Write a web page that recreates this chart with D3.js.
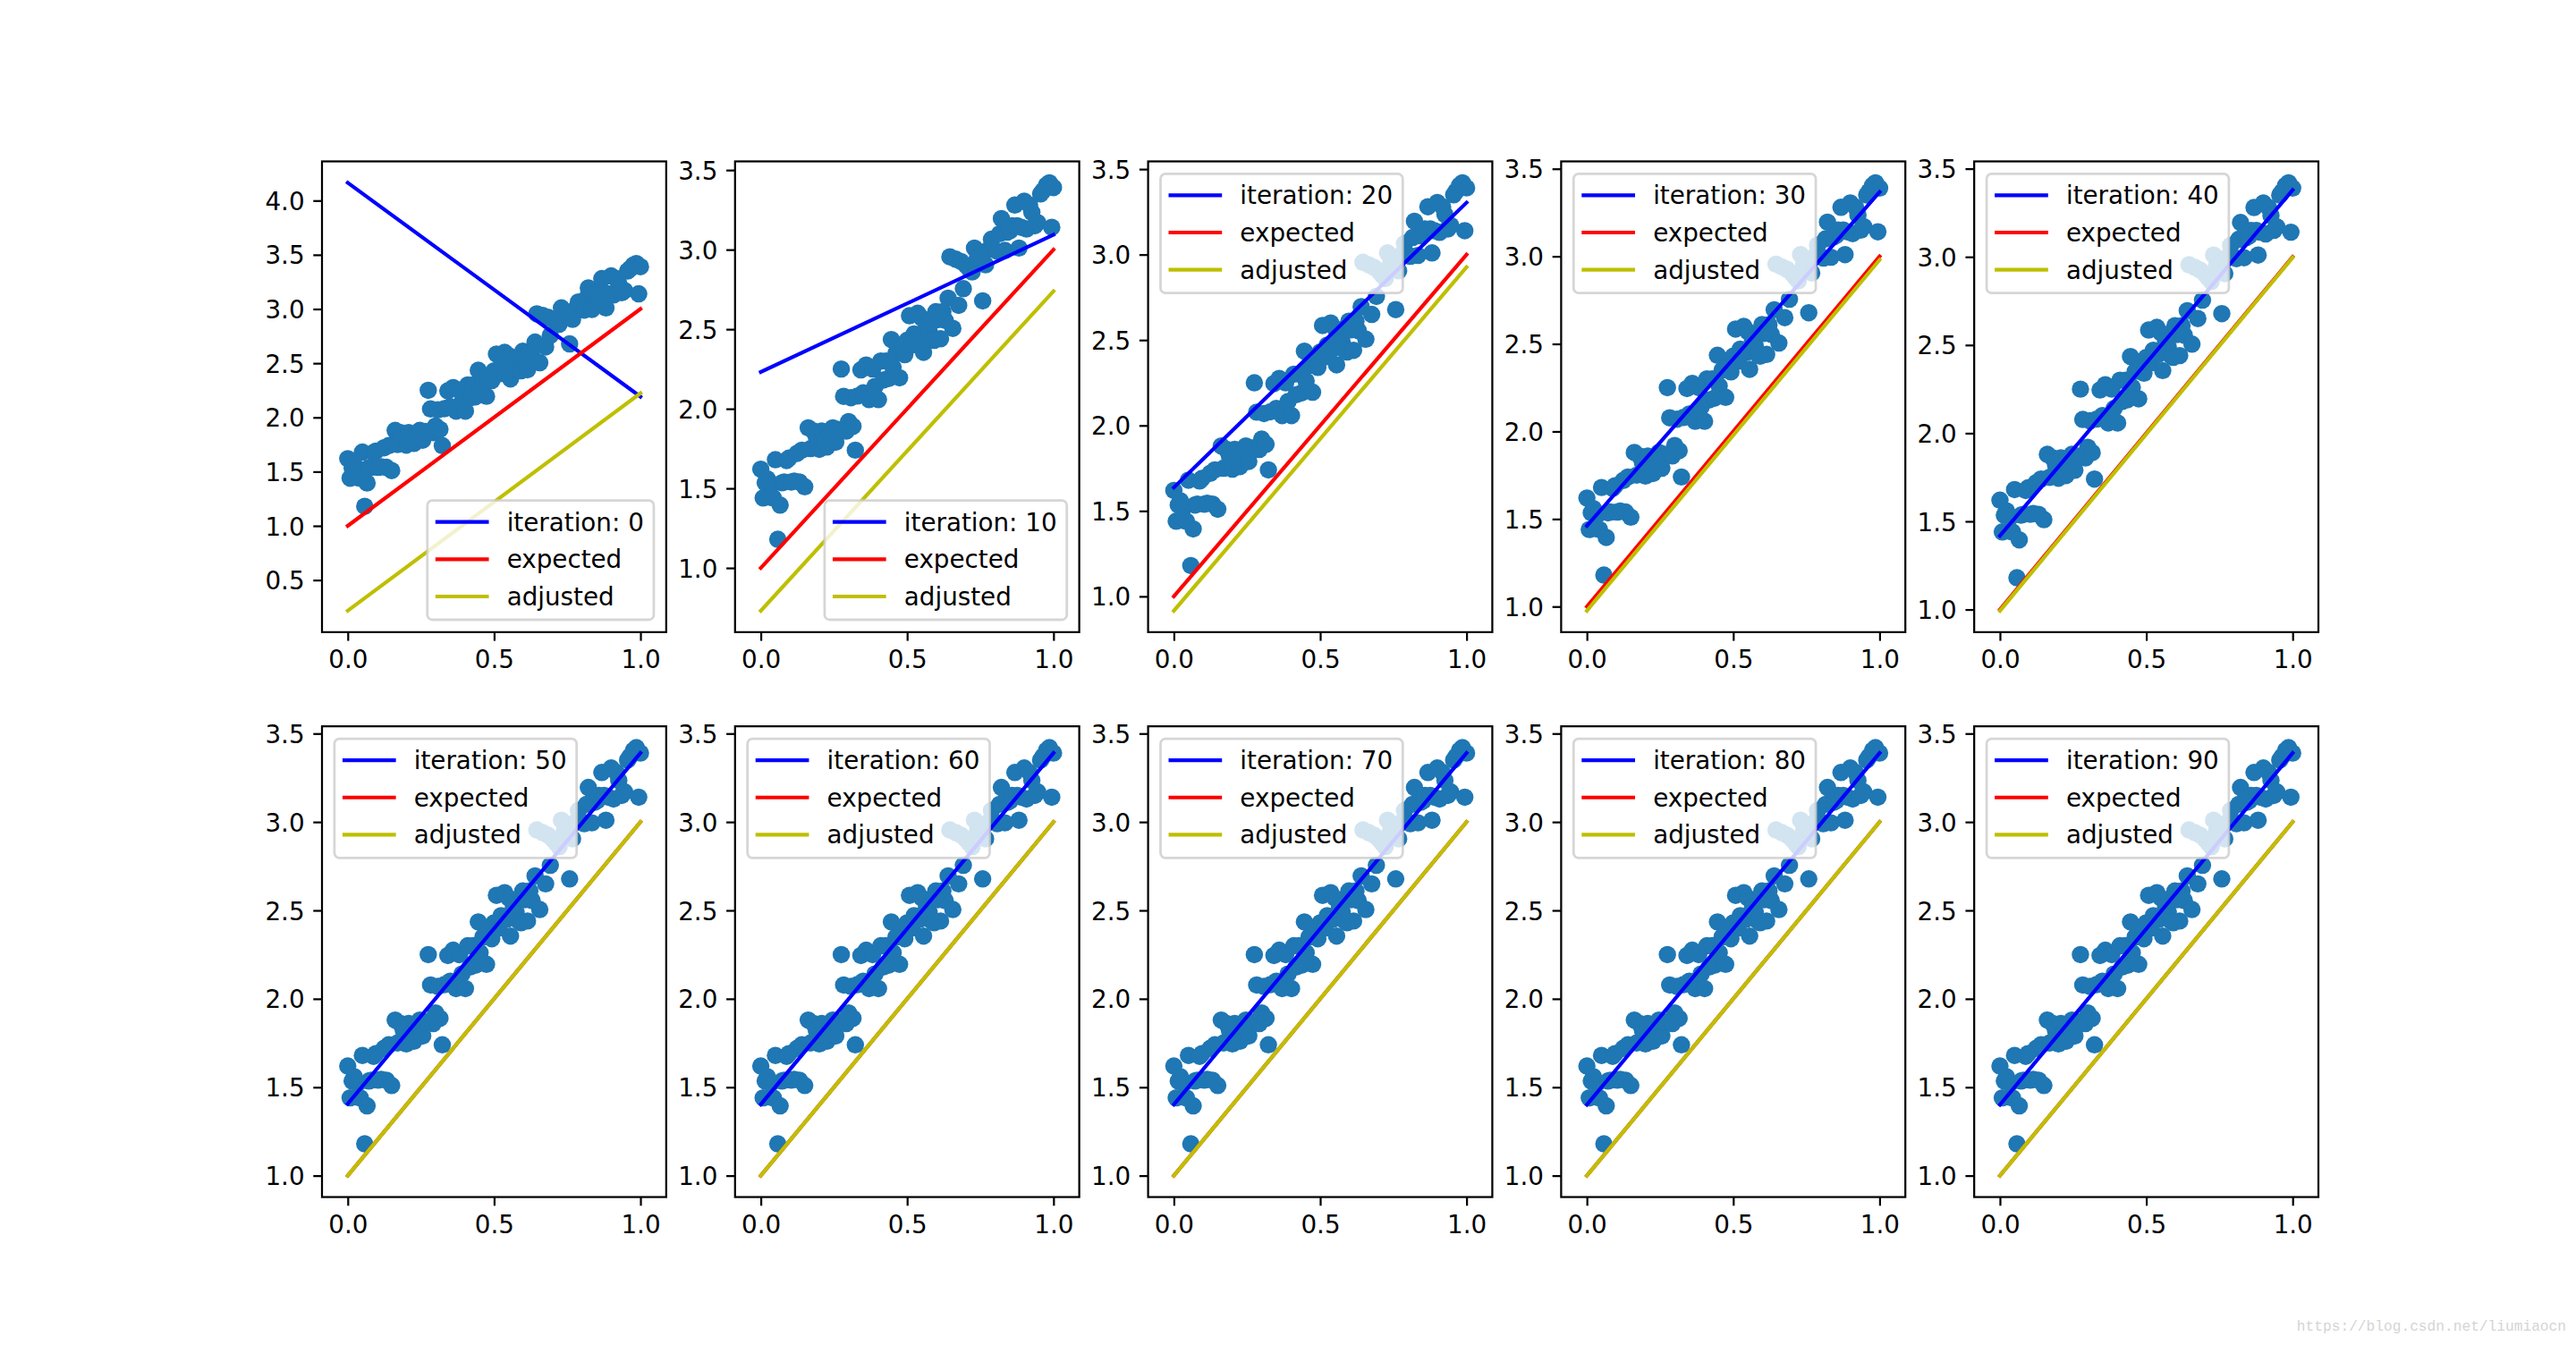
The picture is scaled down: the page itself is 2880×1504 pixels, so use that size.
<!DOCTYPE html>
<html><head><meta charset="utf-8">
<script src="https://cdn.jsdelivr.net/npm/d3@7"></script>
<style>body{margin:0;background:#fff} svg{display:block}</style>
</head><body><svg id="c" width="2880" height="1504"></svg>
<script>
// ---- data ----
const iterations = [0, 10, 20, 30, 40, 50, 60, 70, 80, 90];
const fitStart = [4.164, 2.231, 1.637, 1.461, 1.418, 1.406, 1.403, 1.402, 1.401, 1.401];
const fitEnd   = [2.192, 3.093, 3.304, 3.367, 3.379, 3.390, 3.390, 3.390, 3.390, 3.390];
const adjStart = [0.217, 0.731, 0.916, 0.976, 0.993, 1.000, 1.000, 1.000, 1.000, 1.000];
const adjEnd   = [2.223, 2.739, 2.927, 2.980, 2.996, 3.000, 3.000, 3.000, 3.000, 3.000];
const expectedY = [1.0, 3.0];
const lineX = [0.0, 1.0];
const legendLoc = ["lower right", "lower right", "upper left", "upper left", "upper left",
                   "upper left", "upper left", "upper left", "upper left", "upper left"];
const xTicks = [0.0, 0.5, 1.0];
const yTicksFirst = [0.5, 1.0, 1.5, 2.0, 2.5, 3.0, 3.5, 4.0];
const yTicksOther = [1.0, 1.5, 2.0, 2.5, 3.0, 3.5];
const legendLabels = ["iteration: ", "expected", "adjusted"];
const seriesColors = ["#0000ff", "#ff0000", "#bfbf00"];
const scatterX = [0.000,0.008,0.015,0.022,0.030,0.036,0.043,0.050,0.058,0.066,0.072,0.080,0.088,0.096,0.104,0.114,0.124,0.132,0.140,0.150,
  0.162,0.170,0.180,0.190,0.200,0.208,0.218,0.226,0.236,0.246,0.256,0.264,0.275,0.283,0.292,0.300,0.308,0.315,0.323,0.330,
  0.342,0.350,0.360,0.370,0.382,0.390,0.402,0.410,0.418,0.428,0.436,0.446,0.452,0.462,0.474,0.480,0.492,0.500,0.508,0.516,
  0.524,0.536,0.544,0.550,0.556,0.566,0.575,0.584,0.592,0.598,0.606,0.614,0.622,0.630,0.640,0.646,0.656,0.666,0.676,0.684,
  0.692,0.702,0.712,0.722,0.730,0.740,0.750,0.758,0.768,0.778,0.788,0.798,0.808,0.816,0.822,0.834,0.842,0.852,0.858,0.868,
  0.876,0.882,0.890,0.900,0.908,0.918,0.926,0.936,0.946,0.956,0.964,0.976,0.986,0.994,1.000];
const scatterY = [1.620,1.440,1.535,1.560,1.445,1.525,1.440,1.680,1.180,1.395,1.535,1.540,1.675,1.690,1.540,1.545,1.720,1.540,1.740,1.510,
  1.880,1.750,1.860,1.820,1.745,1.860,1.800,1.760,1.845,1.880,1.790,1.870,2.250,2.078,1.860,1.920,2.070,1.890,1.740,2.080,
  2.245,2.100,2.275,2.058,2.250,2.140,2.058,2.300,2.180,2.300,2.190,2.435,2.260,2.350,2.195,2.380,2.340,2.430,2.585,2.400,
  2.470,2.600,2.450,2.570,2.355,2.520,2.490,2.440,2.430,2.610,2.560,2.440,2.610,2.555,2.695,2.955,2.505,2.940,2.650,2.925,
  2.755,2.900,2.880,2.860,3.010,2.950,2.960,2.678,2.905,3.000,3.065,3.000,2.990,3.100,3.195,2.995,3.110,3.120,3.150,3.280,
  3.150,3.010,3.140,3.305,3.130,3.280,3.235,3.150,3.170,3.350,3.370,3.405,3.420,3.140,3.390];
const watermark = "https://blog.csdn.net/liumiaocn";

// ---- layout (matplotlib-like, 200 dpi) ----
const W = 2880, H = 1504, PT = 200 / 72, FS = 10 * PT;
const L = 0.125 * W, R = 0.9 * W, T = (1 - 0.88) * H, B = (1 - 0.11) * H;
const ncol = 5, nrow = 2;
const aw = (R - L) / (ncol + (ncol - 1) * 0.2), gapX = 0.2 * aw;
const ah = (B - T) / (nrow + (nrow - 1) * 0.2), gapY = 0.2 * ah;
const xDomain = [-0.088, 1.088];
const FONT = "DejaVu Sans";

const svg = d3.select("#c");
svg.append("rect").attr("width", W).attr("height", H).attr("fill", "#fff");

// measure text width
const meas = svg.append("text").attr("font-family", FONT).attr("font-size", FS).attr("visibility", "hidden");
function textW(s) { meas.text(s); return meas.node().getComputedTextLength(); }

const pts = scatterX.map((v, k) => [v, scatterY[k]]);

iterations.forEach((it, i) => {
  const r = Math.floor(i / ncol), c = i % ncol;
  const x0 = L + c * (aw + gapX), y0 = T + r * (ah + gapY);
  const series = [
    { name: legendLabels[0] + it, color: seriesColors[0], d: [[lineX[0], fitStart[i]], [lineX[1], fitEnd[i]]] },
    { name: legendLabels[1], color: seriesColors[1], d: [[lineX[0], expectedY[0]], [lineX[1], expectedY[1]]] },
    { name: legendLabels[2], color: seriesColors[2], d: [[lineX[0], adjStart[i]], [lineX[1], adjEnd[i]]] }
  ];
  const allY = scatterY.concat(...series.map(s => s.d.map(p => p[1])));
  const [mn, mx] = d3.extent(allY);
  const pad = (mx - mn) * 0.05;
  const x = d3.scaleLinear().domain(xDomain).range([x0, x0 + aw]);
  const y = d3.scaleLinear().domain([mn - pad, mx + pad]).range([y0 + ah, y0]);

  const g = svg.append("g");
  const cid = "clip" + i;
  g.append("clipPath").attr("id", cid).append("rect")
    .attr("x", x0).attr("y", y0).attr("width", aw).attr("height", ah);
  const plot = g.append("g").attr("clip-path", `url(#${cid})`);

  plot.selectAll("circle").data(pts).join("circle")
    .attr("cx", d => x(d[0])).attr("cy", d => y(d[1]))
    .attr("r", 3.5 * PT).attr("fill", "#1f77b4");

  const line = d3.line().x(d => x(d[0])).y(d => y(d[1]));
  series.forEach(s => {
    plot.append("path").attr("d", line(s.d)).attr("fill", "none")
      .attr("stroke", s.color).attr("stroke-width", 1.5 * PT).attr("stroke-linecap", "square");
  });

  // spines
  g.append("rect").attr("x", x0).attr("y", y0).attr("width", aw).attr("height", ah)
    .attr("fill", "none").attr("stroke", "#000").attr("stroke-width", 0.8 * PT);

  // axes
  const yTicks = i === 0 ? yTicksFirst : yTicksOther;
  const ax = g.append("g").attr("transform", `translate(${x0},0)`)
    .call(d3.axisLeft(y).tickValues(yTicks).tickFormat(d3.format(".1f"))
      .tickSize(3.5 * PT).tickPadding(3.5 * PT));
  const bx = g.append("g").attr("transform", `translate(0,${y0 + ah})`)
    .call(d3.axisBottom(x).tickValues(xTicks).tickFormat(d3.format(".1f"))
      .tickSize(3.5 * PT).tickPadding(3.5 * PT));
  [ax, bx].forEach(a => {
    a.select(".domain").remove();
    a.selectAll(".tick line").attr("stroke", "#000").attr("stroke-width", 0.8 * PT);
    a.selectAll(".tick text").attr("font-family", FONT).attr("font-size", FS).attr("fill", "#000");
  });
  ax.selectAll(".tick text").attr("dy", "0.36em");
  bx.selectAll(".tick text").attr("dy", "0.75em");

  // legend
  const bp = 0.4 * FS, hl = 2.0 * FS, htp = 0.8 * FS, ls = 0.5 * FS, bap = 0.5 * FS, rowH = 1.0 * FS;
  const tw = d3.max(series, s => textW(s.name));
  const lw = 2 * bp + hl + htp + tw;
  const lh = 2 * bp + 3 * rowH + 2 * ls;
  let lx, ly;
  if (legendLoc[i] === "lower right") { lx = x0 + aw - bap - lw; ly = y0 + ah - bap - lh; }
  else { lx = x0 + bap; ly = y0 + bap; }
  const lg = g.append("g");
  lg.append("rect").attr("x", lx).attr("y", ly).attr("width", lw).attr("height", lh)
    .attr("rx", 0.2 * FS).attr("ry", 0.2 * FS)
    .attr("fill", "#fff").attr("fill-opacity", 0.8)
    .attr("stroke", "#cccccc").attr("stroke-opacity", 0.8).attr("stroke-width", 1.0 * PT);
  series.forEach((s, k) => {
    const cy = ly + bp + rowH / 2 - 1 + k * (rowH + ls);
    lg.append("line").attr("x1", lx + bp).attr("x2", lx + bp + hl).attr("y1", cy).attr("y2", cy)
      .attr("stroke", s.color).attr("stroke-width", 1.5 * PT).attr("stroke-linecap", "square");
    lg.append("text").attr("x", lx + bp + hl + htp).attr("y", cy + 0.36 * FS)
      .attr("font-family", FONT).attr("font-size", FS).attr("fill", "#000").text(s.name);
  });
});

meas.remove();

svg.append("text").attr("x", 2869).attr("y", 1488).attr("text-anchor", "end")
  .attr("font-family", "Liberation Mono").attr("font-size", 16.2).attr("fill", "#d4d4d4")
  .text(watermark);
</script></body></html>
